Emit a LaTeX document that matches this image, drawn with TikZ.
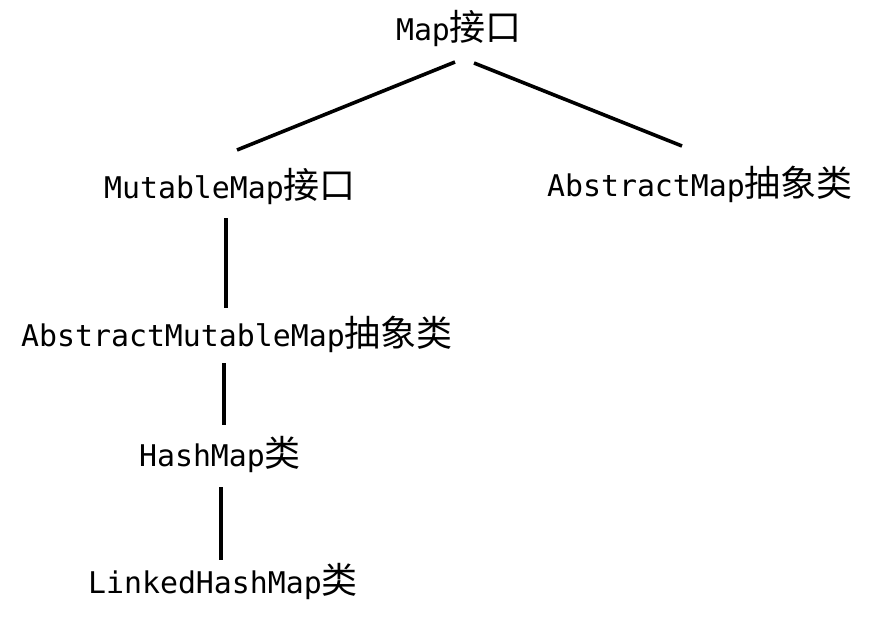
\documentclass[tikz,border=0pt]{standalone}
\usepackage{fontspec}
\setmainfont{DejaVu Sans Mono}[Scale=0.83]
\newfontfamily\cjk{Noto Sans CJK SC}
\begin{document}
\begin{tikzpicture}[x=1pt,y=-1pt,
  lbl/.style={anchor=base,inner sep=0pt,font=\fontsize{36}{40}\selectfont},
  conn/.style={line width=3.6pt}]
\useasboundingbox[fill=white] (0,0) rectangle (883,624);
\node[lbl] (map) at (459,40) {Map{\cjk 接口}};
\node[lbl] (mut) at (230,198) {MutableMap{\cjk 接口}};
\node[lbl] (abs) at (700,196) {AbstractMap{\cjk 抽象类}};
\node[lbl] (amut) at (237,346) {AbstractMutableMap{\cjk 抽象类}};
\node[lbl] (hash) at (220,466) {HashMap{\cjk 类}};
\node[lbl] (linked) at (223,593) {LinkedHashMap{\cjk 类}};
\draw[conn] ([shift={(-4,22)}]map.base) -- ([shift={(7,-48)}]mut.base);
\draw[conn] ([shift={(15,23)}]map.base) -- ([shift={(-18,-50)}]abs.base);
\draw[conn] ([shift={(-4,20)}]mut.base) -- ([shift={(-11,-38)}]amut.base);
\draw[conn] ([shift={(-13,17)}]amut.base) -- ([shift={(4,-41)}]hash.base);
\draw[conn] ([shift={(1,21)}]hash.base) -- ([shift={(-2,-33)}]linked.base);
\end{tikzpicture}
\end{document}
